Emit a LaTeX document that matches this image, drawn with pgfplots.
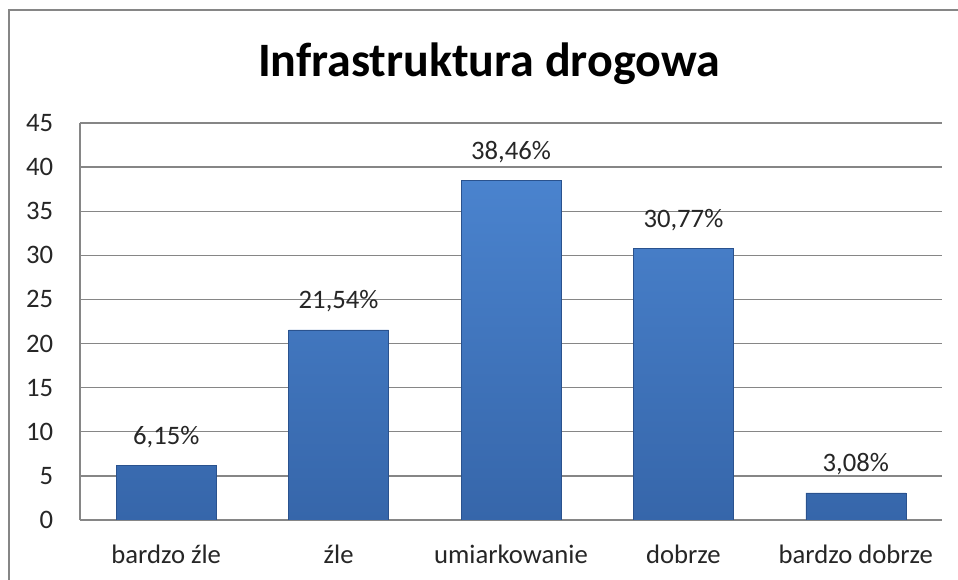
\documentclass[border=0pt]{standalone}
\usepackage{pgfplots}
\pgfplotsset{compat=1.18}
\usepackage{fontspec}
\setmainfont{Carlito}
\definecolor{gridc}{RGB}{134,134,134}
\definecolor{bartop}{RGB}{74,131,206}
\definecolor{barbot}{RGB}{54,102,170}
\definecolor{bardraw}{RGB}{42,82,142}
\begin{document}
\begin{tikzpicture}
\useasboundingbox (0,0) rectangle (718.5pt,435pt);
\fill[white] (0,0) rectangle (718.5pt,435pt);
\draw[gridc, line width=1.5pt] (6.75pt,427.5pt) rectangle (740pt,-20pt);
\node[anchor=base, font=\fontsize{36}{40}\selectfont\bfseries, inner sep=0pt] at (366.75pt,377.25pt) {Infrastruktura drogowa};
\begin{axis}[
  at={(60pt,45pt)}, anchor=south west, scale only axis,
  width=646.5pt, height=297.75pt,
  xmin=-0.5, xmax=4.5, ymin=0, ymax=45,
  ytick distance=5, xtick=data,
  xticklabels={bardzo źle, źle, umiarkowanie, dobrze, bardzo dobrze},
  axis x line*=bottom, axis y line*=left,
  axis line style={gridc, line width=1pt, -},
  ymajorgrids, grid style={gridc, line width=1pt},
  major tick length=0pt,
  tick label style={font=\fontsize{20}{24}\selectfont, text=black!85},
  /pgf/number format/assume math mode=true,
  yticklabel style={anchor=east, inner sep=0pt, xshift=-20pt},
  xticklabel style={anchor=base, inner sep=0pt, yshift=-33pt},
]
\addplot[ybar, bar width=0.58, draw=bardraw, line width=0.4pt,
  top color=bartop, bottom color=barbot,
  nodes near coords, point meta=explicit symbolic,
  nodes near coords style={font=\fontsize{20}{24}\selectfont, text=black!85, anchor=base, inner sep=0pt, yshift=16pt}]
  coordinates {
    (0,6.15) [6{,}15\%]
    (1,21.54) [21{,}54\%]
    (2,38.46) [38{,}46\%]
    (3,30.77) [30{,}77\%]
    (4,3.08) [3{,}08\%]
  };
\end{axis}
\end{tikzpicture}
\end{document}
